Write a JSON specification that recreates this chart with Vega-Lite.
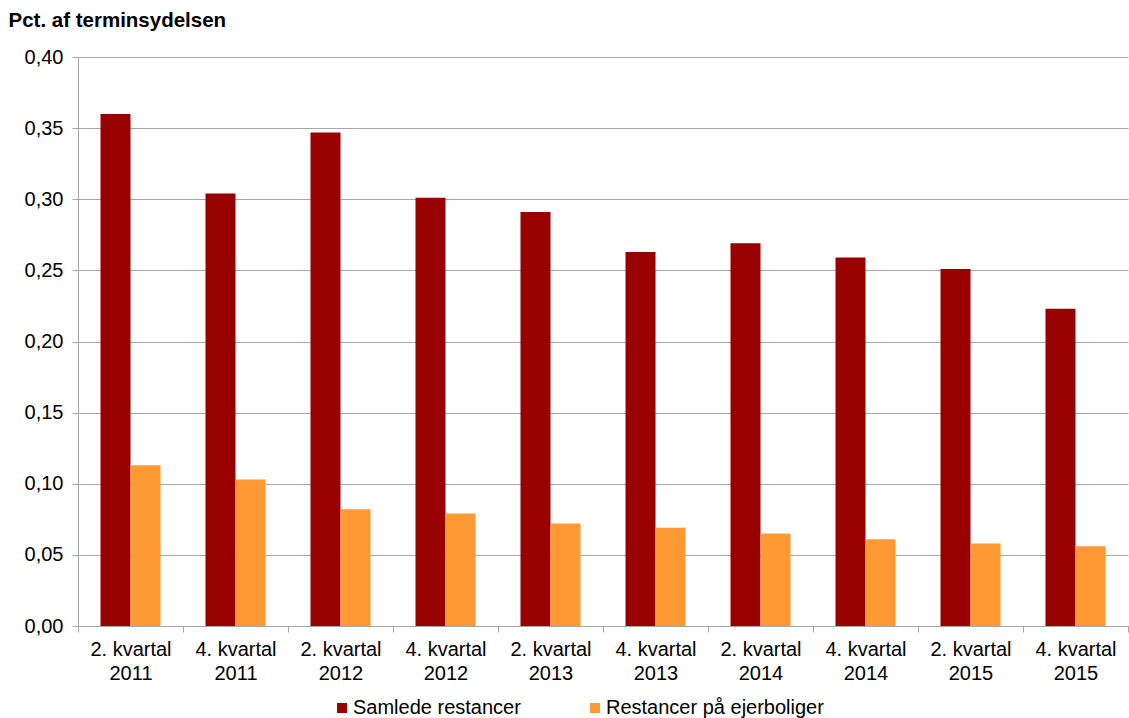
{
  "$schema": "https://vega.github.io/schema/vega-lite/v6.json",
  "autosize": "none",
  "width": 1050,
  "height": 569,
  "padding": {"left": 78, "top": 57, "right": 1, "bottom": 92},
  "background": "white",
  "config": {
    "font": "Liberation Sans",
    "view": {"stroke": null},
    "axis": {"labelFont": "Liberation Sans", "labelColor": "#000000", "domainColor": "#A6A6A6", "tickColor": "#A6A6A6", "gridColor": "#A6A6A6"}
  },
  "data": {
    "values": [
      {"kvartal": "2. kvartal 2011", "serie": "Samlede restancer", "vaerdi": 0.360},
      {"kvartal": "2. kvartal 2011", "serie": "Restancer på ejerboliger", "vaerdi": 0.113},
      {"kvartal": "4. kvartal 2011", "serie": "Samlede restancer", "vaerdi": 0.304},
      {"kvartal": "4. kvartal 2011", "serie": "Restancer på ejerboliger", "vaerdi": 0.103},
      {"kvartal": "2. kvartal 2012", "serie": "Samlede restancer", "vaerdi": 0.347},
      {"kvartal": "2. kvartal 2012", "serie": "Restancer på ejerboliger", "vaerdi": 0.082},
      {"kvartal": "4. kvartal 2012", "serie": "Samlede restancer", "vaerdi": 0.301},
      {"kvartal": "4. kvartal 2012", "serie": "Restancer på ejerboliger", "vaerdi": 0.079},
      {"kvartal": "2. kvartal 2013", "serie": "Samlede restancer", "vaerdi": 0.291},
      {"kvartal": "2. kvartal 2013", "serie": "Restancer på ejerboliger", "vaerdi": 0.072},
      {"kvartal": "4. kvartal 2013", "serie": "Samlede restancer", "vaerdi": 0.263},
      {"kvartal": "4. kvartal 2013", "serie": "Restancer på ejerboliger", "vaerdi": 0.069},
      {"kvartal": "2. kvartal 2014", "serie": "Samlede restancer", "vaerdi": 0.269},
      {"kvartal": "2. kvartal 2014", "serie": "Restancer på ejerboliger", "vaerdi": 0.065},
      {"kvartal": "4. kvartal 2014", "serie": "Samlede restancer", "vaerdi": 0.259},
      {"kvartal": "4. kvartal 2014", "serie": "Restancer på ejerboliger", "vaerdi": 0.061},
      {"kvartal": "2. kvartal 2015", "serie": "Samlede restancer", "vaerdi": 0.251},
      {"kvartal": "2. kvartal 2015", "serie": "Restancer på ejerboliger", "vaerdi": 0.058},
      {"kvartal": "4. kvartal 2015", "serie": "Samlede restancer", "vaerdi": 0.223},
      {"kvartal": "4. kvartal 2015", "serie": "Restancer på ejerboliger", "vaerdi": 0.056}
    ]
  },
  "mark": {"type": "bar"},
  "encoding": {
    "x": {
      "field": "kvartal",
      "type": "nominal",
      "sort": null,
      "scale": {"paddingInner": 0, "paddingOuter": 0},
      "axis": {
        "title": null,
        "labelAngle": 0,
        "labelFontSize": 20,
        "labelLineHeight": 24,
        "labelBaseline": "top",
        "labelPadding": 7,
        "tickSize": 6,
        "tickBand": "extent",
        "labelExpr": "[slice(datum.label, 0, 10), slice(datum.label, 11)]",
        "domainWidth": 1
      }
    },
    "xOffset": {
      "field": "serie",
      "type": "nominal",
      "sort": ["Samlede restancer", "Restancer på ejerboliger"],
      "scale": {"paddingInner": 0, "paddingOuter": 0.75}
    },
    "y": {
      "field": "vaerdi",
      "type": "quantitative",
      "scale": {"domain": [0, 0.4], "nice": false},
      "axis": {
        "values": [0, 0.05, 0.1, 0.15, 0.2, 0.25, 0.3, 0.35, 0.4],
        "labelExpr": "replace(format(datum.value, '.2f'), '.', ',')",
        "labelFontSize": 20,
        "labelPadding": 9,
        "tickSize": 6,
        "grid": true,
        "title": "Pct. af terminsydelsen",
        "titleAngle": 0,
        "titleAlign": "left",
        "titleBaseline": "alphabetic",
        "titleX": -70,
        "titleY": -31,
        "titleFontSize": 20.5,
        "titleFontWeight": "bold",
        "titleColor": "#000000"
      }
    },
    "color": {
      "field": "serie",
      "type": "nominal",
      "scale": {"domain": ["Samlede restancer", "Restancer på ejerboliger"], "range": ["#990000", "#FF9933"]},
      "legend": {
        "title": null,
        "orient": "none",
        "direction": "horizontal",
        "legendX": 254,
        "legendY": 641,
        "symbolType": "square",
        "symbolSize": 100,
        "symbolStrokeWidth": 0,
        "labelFontSize": 20,
        "labelOffset": 1,
        "labelLimit": 400,
        "columnPadding": 64,
        "labelColor": "#000000"
      }
    }
  }
}
